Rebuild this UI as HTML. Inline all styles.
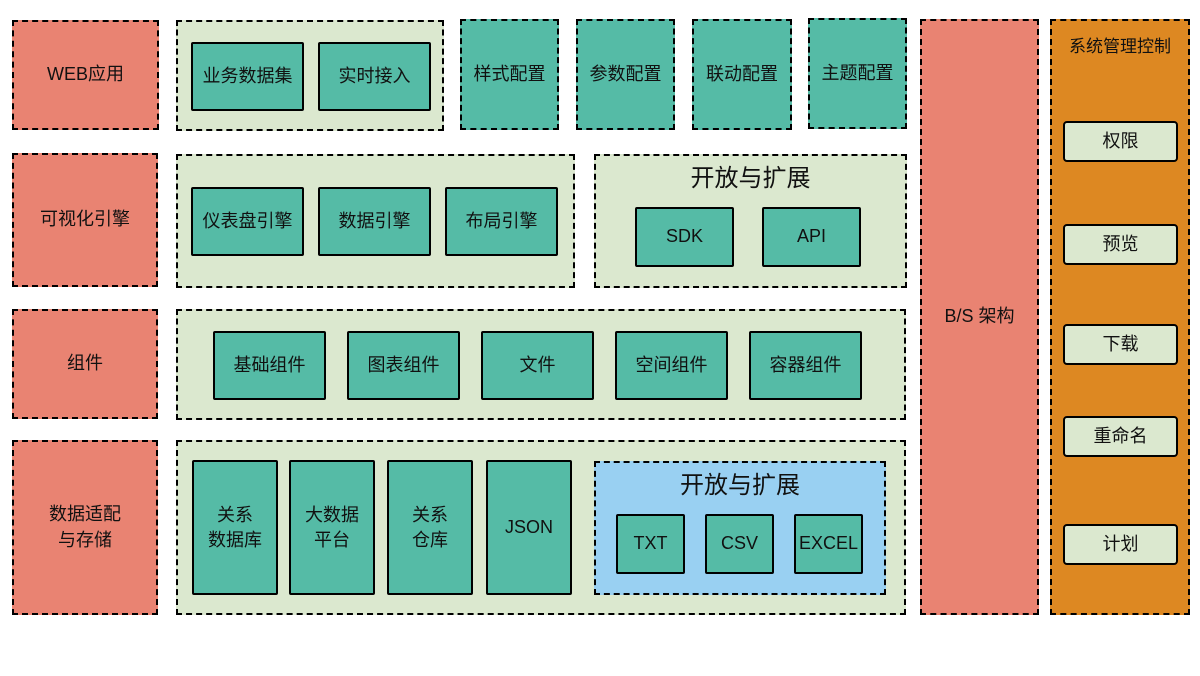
<!DOCTYPE html>
<html><head><meta charset="utf-8"><style>
body{margin:0;width:1200px;height:676px;background:#fff;position:relative;overflow:hidden;font-family:"Liberation Sans","Noto Sans CJK SC",sans-serif;color:#111}
div{position:absolute;box-sizing:border-box;display:flex;align-items:center;justify-content:center;text-align:center;font-size:18px;line-height:1.4}
.d{border:2px dashed #000}
.s{border:2px solid #000;border-radius:2px}
.r{background:#E98372}
.g{background:#DBE8CF}
.t{background:#55BBA6}
.o{background:#DD8822}
.b{background:#99D0F2}
.w{background:#DBE8CF;border-radius:4px}
.tt{font-size:24px;border:none;background:none}
</style></head><body>
<div class="d r" style="left:12px;top:20px;width:147px;height:110px">WEB应用</div>
<div class="d r" style="left:12px;top:153px;width:146px;height:134px">可视化引擎</div>
<div class="d r" style="left:12px;top:309px;width:146px;height:110px">组件</div>
<div class="d r" style="left:12px;top:440px;width:146px;height:175px">数据适配<br>与存储</div>

<div class="d g" style="left:176px;top:20px;width:268px;height:111px"></div>
<div class="s t" style="left:191px;top:42px;width:113px;height:69px">业务数据集</div>
<div class="s t" style="left:318px;top:42px;width:113px;height:69px">实时接入</div>
<div class="d t" style="left:460px;top:19px;width:99px;height:111px">样式配置</div>
<div class="d t" style="left:576px;top:19px;width:99px;height:111px">参数配置</div>
<div class="d t" style="left:692px;top:19px;width:100px;height:111px">联动配置</div>
<div class="d t" style="left:808px;top:18px;width:99px;height:111px">主题配置</div>

<div class="d g" style="left:176px;top:154px;width:399px;height:134px"></div>
<div class="s t" style="left:191px;top:187px;width:113px;height:69px">仪表盘引擎</div>
<div class="s t" style="left:318px;top:187px;width:113px;height:69px">数据引擎</div>
<div class="s t" style="left:445px;top:187px;width:113px;height:69px">布局引擎</div>
<div class="d g" style="left:594px;top:154px;width:313px;height:134px"></div>
<div class="tt" style="left:594px;top:161px;width:313px;height:36px">开放与扩展</div>
<div class="s t" style="left:635px;top:207px;width:99px;height:60px">SDK</div>
<div class="s t" style="left:762px;top:207px;width:99px;height:60px">API</div>

<div class="d g" style="left:176px;top:309px;width:730px;height:111px"></div>
<div class="s t" style="left:213px;top:331px;width:113px;height:69px">基础组件</div>
<div class="s t" style="left:347px;top:331px;width:113px;height:69px">图表组件</div>
<div class="s t" style="left:481px;top:331px;width:113px;height:69px">文件</div>
<div class="s t" style="left:615px;top:331px;width:113px;height:69px">空间组件</div>
<div class="s t" style="left:749px;top:331px;width:113px;height:69px">容器组件</div>

<div class="d g" style="left:176px;top:440px;width:730px;height:175px"></div>
<div class="s t" style="left:192px;top:460px;width:86px;height:135px;align-items:flex-start;padding-top:41px">关系<br>数据库</div>
<div class="s t" style="left:289px;top:460px;width:86px;height:135px;align-items:flex-start;padding-top:41px">大数据<br>平台</div>
<div class="s t" style="left:387px;top:460px;width:86px;height:135px;align-items:flex-start;padding-top:41px">关系<br>仓库</div>
<div class="s t" style="left:486px;top:460px;width:86px;height:135px;align-items:flex-start;padding-top:53px">JSON</div>
<div class="d b" style="left:594px;top:461px;width:292px;height:134px"></div>
<div class="tt" style="left:594px;top:468px;width:292px;height:36px">开放与扩展</div>
<div class="s t" style="left:616px;top:514px;width:69px;height:60px">TXT</div>
<div class="s t" style="left:705px;top:514px;width:69px;height:60px">CSV</div>
<div class="s t" style="left:794px;top:514px;width:69px;height:60px">EXCEL</div>

<div class="d r" style="left:920px;top:19px;width:119px;height:596px">B/S 架构</div>
<div class="d o" style="left:1050px;top:19px;width:140px;height:596px"></div>
<div style="left:1050px;top:32px;width:140px;height:30px;font-size:17px">系统管理控制</div>
<div class="s w" style="left:1063px;top:121px;width:115px;height:41px">权限</div>
<div class="s w" style="left:1063px;top:224px;width:115px;height:41px">预览</div>
<div class="s w" style="left:1063px;top:324px;width:115px;height:41px">下载</div>
<div class="s w" style="left:1063px;top:416px;width:115px;height:41px">重命名</div>
<div class="s w" style="left:1063px;top:524px;width:115px;height:41px">计划</div>
</body></html>
